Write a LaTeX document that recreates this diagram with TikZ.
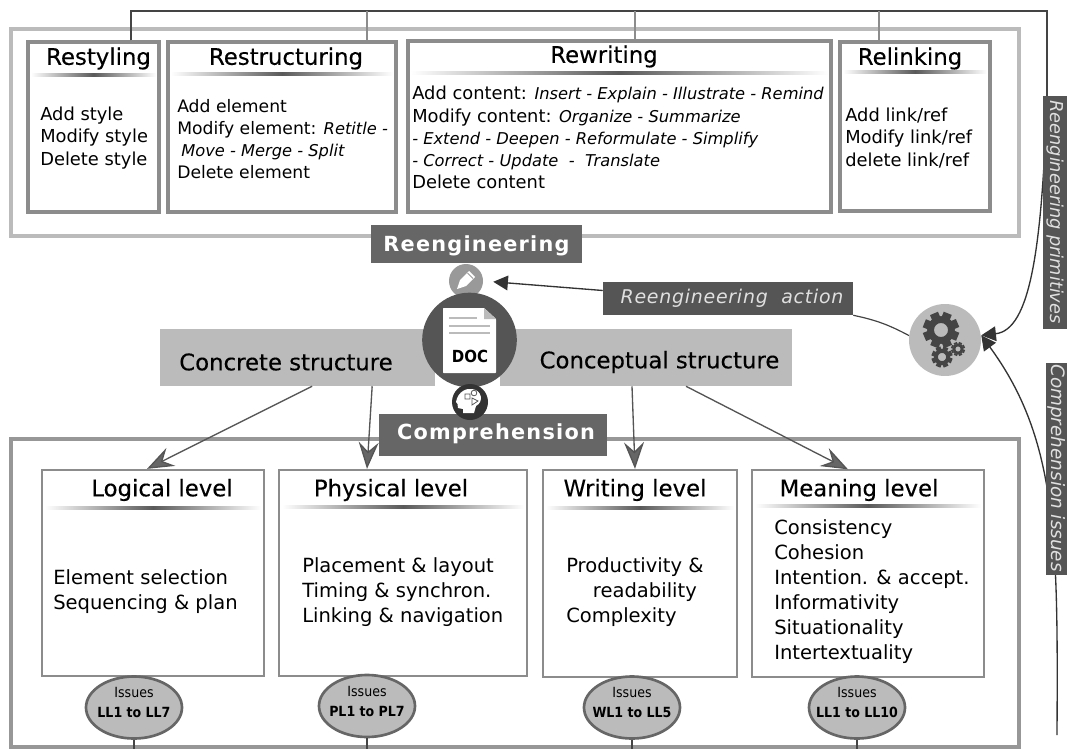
\documentclass[tikz,border=0pt]{standalone}
\usepackage{fontspec}
\setmainfont{DejaVu Sans}
\newfontfamily\condfont{DejaVu Sans Condensed}
\usetikzlibrary{arrows.meta,fit,shapes.geometric}
\definecolor{framegray}{HTML}{BBBBBB}
\definecolor{boxgray}{HTML}{8C8C8C}
\definecolor{bandgray}{HTML}{666666}
\definecolor{darkgray}{HTML}{555555}
\newcommand{\gearicon}[3]{%
  \foreach \a in {0,45,...,315}
    \draw [line width=#3*0.36pt,color=darkgray!80!black] (#1,#2)+(\a+22:#3*0.7) -- +(\a+22:#3);
  \draw [line width=#3*0.28pt,color=darkgray!80!black] (#1,#2) circle (#3*0.58);
}
\newcommand{\slanted}[1]{{\itshape\fontsize{12.2pt}{12pt}\selectfont #1}}
\tikzset{
  frame/.style={draw=framegray,line width=2.6pt,inner sep=0pt},
  topbox/.style={draw=boxgray,line width=2.5pt,fill=white,inner sep=0pt},
  levelbox/.style={draw=boxgray,line width=1.7pt,fill=white,inner sep=0pt},
  fillbox/.style={fill=#1,inner sep=0pt},
  title/.style={font=\fontsize{17.1pt}{20pt}\selectfont\addfontfeature{FakeBold=0.25},text=black,inner sep=0pt},
  topbody/.style={font=\fontsize{13.4pt}{16.6pt}\selectfont,align=left,anchor=west,inner sep=0pt},
  levelbody/.style={font=\fontsize{14.65pt}{18.75pt}\selectfont,align=left,anchor=west,inner sep=0pt},
  banner/.style={font=\bfseries\fontsize{15.6pt}{18pt}\selectfont\addfontfeature{LetterSpace=6},text=white,inner sep=0pt},
  sidetext/.style={font=\itshape\fontsize{13.3pt}{15pt}\selectfont,text=black!12,inner sep=0pt},
  issues/.style={ellipse,draw=bandgray,line width=2pt,fill=framegray,minimum width=72pt,minimum height=46.5pt,inner sep=0pt},
  issuestext/.style={align=center,inner sep=0pt,yshift=3.5pt,font=\condfont\fontsize{10.5pt}{15pt}\selectfont},
  link/.style={color=darkgray!80!black,line width=.9pt},
  levelarrow/.style={draw=darkgray,line width=1pt,-{Stealth[length=20pt,width=15pt,inset=7pt,fill=bandgray]}},
  darkarrow/.style={color=black!80,line width=1pt,-{Stealth[length=11pt,width=11pt,inset=0pt]}}
}
\begin{document}
\begin{tikzpicture}[x=0.75pt,y=-0.75pt]
\useasboundingbox (0,0) rectangle (1067,749);

% outer frames
\node (reengframe) [frame,fit={(11,29) (1019,236)}] {};
\node (compframe) [frame,draw=boxgray!90!white,fit={(11,439) (1019,747)}] {};

% corner points of the lines
\coordinate (topleft) at (131,11);
\coordinate (topright) at (1047,11);
\coordinate (stubb) at (367,11);
\coordinate (stubc) at (635,11);
\coordinate (stubd) at (879,11);
\coordinate (primtop) at (1047,96);
\coordinate (pagebottom) at (0,749);
\coordinate (issuesend) at (1057,735);

% top boxes
\node (restyling) [topbox,fit={(28,42) (159,212)}] {};
\node (restructuring) [topbox,fit={(168,42) (396,212)}] {};
\node (rewriting) [topbox,fit={(408,41) (831,212)}] {};
\node (relinking) [topbox,fit={(840,42) (990,211)}] {};

\draw [link] (restyling.north -| topleft) -- (topleft) -- (topright) -- (primtop);
\draw [link,color=boxgray] (restructuring.north -| stubb) -- (stubb);
\draw [link,color=boxgray] (rewriting.north -| stubc) -- (stubc);
\draw [link,color=boxgray] (relinking.north -| stubd) -- (stubd);

% level boxes
\node (logical) [levelbox,fit={(42,470) (264,676)}] {};
\node (physical) [levelbox,fit={(279,470) (527,676)}] {};
\node (writing) [levelbox,fit={(543,470) (737,677)}] {};
\node (meaning) [levelbox,line width=1pt,fit={(752,470) (984,677)}] {};

% rules under the titles
\foreach \l/\r/\y in {31/156/75,171/393/74,411/828/73,843/987/72,45/261/508,282/524/507,546/734/508,755/981/506}
  \shade [left color=white,right color=white,middle color=black!65] (\l,\y-1.5) rectangle (\r,\y+1.5);

\node (t1) [title] at (98.5,58.5) {Restyling};
\node (t2) [title] at (286,58.5) {Restructuring};
\node (t3) [title] at (604,56.5) {Rewriting};
\node (t4) [title] at (910,58.5) {Relinking};
\node (t5) [title] at (162,490) {Logical level};
\node (t6) [title] at (391,490) {Physical level};
\node (t7) [title] at (635,490) {Writing level};
\node (t8) [title] at (859,490) {Meaning level};

\node (b1) [topbody] at (40,138) {Add style\\Modify style\\Delete style};
\node (b2) [topbody,font=\fontsize{12.9pt}{16.6pt}\selectfont] at (177,139) {Add element\\Modify element: \slanted{Retitle -}\\
  \hspace{3pt}\slanted{Move - Merge - Split}\\Delete element};
\node (b3) [topbody] at (412,137.5) {Add content: \slanted{Insert - Explain - Illustrate - Remind}\\
  Modify content: \slanted{Organize - Summarize}\\
  \slanted{- Extend - Deepen - Reformulate - Simplify}\\
  \slanted{- Correct - Update \ - \ Translate}\\Delete content};
\node (b4) [topbody] at (845,138) {Add link/ref\\Modify link/ref\\delete link/ref};
\node (b5) [levelbody] at (53,592) {Element selection\\Sequencing \& plan};
\node (b6) [levelbody] at (302,592) {Placement \& layout\\Timing \& synchron.\\Linking \& navigation};
\node (b7) [levelbody] at (566,592) {Productivity \&\\\hspace{20pt}readability\\Complexity};
\node (b8) [levelbody] at (774,592) {Consistency\\Cohesion\\Intention. \& accept.\\Informativity\\Situationality\\Intertextuality};

% issues
\node (issuesa) [issues] at (134,707.5) {};
\node (issuesb) [issues] at (367,706) {};
\node (issuesc) [issues] at (632,707.5) {};
\node (issuesd) [issues] at (857,707.5) {};
\node (issuesatext) [issuestext] at (issuesa) {Issues\\\textbf{LL1 to LL7}};
\node (issuesbtext) [issuestext] at (issuesb) {Issues\\\textbf{PL1 to PL7}};
\node (issuesctext) [issuestext] at (issuesc) {Issues\\\textbf{WL1 to LL5}};
\node (issuesdtext) [issuestext] at (issuesd) {Issues\\\textbf{LL1 to LL10}};
\foreach \n in {issuesa,issuesb,issuesc,issuesd}
  \draw [link] (\n.south) -- (\n.south |- pagebottom);

% middle
\node (reengband) [fillbox=bandgray,fit={(371,225) (582,263)}] {};
\node (reengtext) [banner] at (476.5,246) {Reengineering};
\node (concrete) [fillbox=framegray,fit={(160,329) (435,386)}] {};
\node (conceptual) [fillbox=framegray,fit={(500,329) (792,386)}] {};
\node (concretetext) [title] at (286,362) {Concrete structure};
\node (conceptualtext) [title] at (659.5,362) {Conceptual structure};
\node (compband) [fillbox=bandgray,fit={(379,414) (607,456)}] {};
\node (comptext) [banner] at (496,434) {Comprehension};

\draw [levelarrow] ([xshift=11pt]concrete.south) -- ([xshift=-4.5pt]logical.north);
\draw [levelarrow] ([xshift=56pt]concrete.south) -- ([xshift=-27pt]physical.north);
\draw [levelarrow] ([xshift=-10.5pt]conceptual.south) -- ([xshift=-3.75pt]writing.north);
\draw [levelarrow] ([xshift=30pt]conceptual.south) -- ([xshift=-15pt]meaning.north);

% document and icons
\node (pencil) [circle,fill=black!40,minimum size=25.5pt,inner sep=0pt] at (466,281) {};
\fill [white] (457,289) -- (460,280) -- (469,271) -- (475,277) -- (466,286) -- cycle;
\draw [black!40,line width=.6pt] (467.5,273) -- (473,278.5);
\node (doc) [circle,fill=darkgray,minimum size=71pt,inner sep=0pt] at (469.5,340) {};
\fill [white,rounded corners=.5pt] (443,308) -- (484,308) -- (496,319) -- (496,373) -- (443,373) -- cycle;
\fill [framegray] (484,308) -- (496,319) -- (484,319) -- cycle;
\draw [framegray,line width=1.6pt] (449,318) -- (477,318) (449,326) -- (490,326) (449,333) -- (490,333);
\node (doctext) [font=\condfont\bfseries\fontsize{12.5pt}{14pt}\selectfont,inner sep=0pt] at (470,356) {DOC};
\node (head) [circle,fill=black!80,minimum size=27pt,inner sep=0pt] at (470,402) {};
\fill [white] (463,413) -- (463,409) -- (458,408) -- (457.5,404) -- (456,402) .. controls (458,391) and (467,388) .. (472,389)
  .. controls (482,390) and (484,402) .. (476,406) -- (474,413) -- cycle;
\draw [darkgray,line width=.6pt] (465,394) rectangle (470,399) (474,393) circle (2.8) (472,398) -- (478,401) -- (472,405) -- cycle;

% side parts
\node (action) [fillbox=darkgray,fit={(603,282) (853,315)}] {};
\node (actiontext) [sidetext,font=\itshape\fontsize{14.2pt}{16pt}\selectfont\addfontfeature{LetterSpace=4}] at (732,298) {Reengineering \ action};
\node (gears) [circle,fill=framegray,minimum size=54pt,inner sep=0pt] at (945,340) {};
\gearicon{941}{330}{18}
\gearicon{942}{357}{10.5}
\gearicon{958}{349}{7}

\draw [darkarrow,shorten >=7.5pt] ([yshift=6pt]action.west) -- (pencil.east);
\draw [link] (action.south east) to [bend left=8] (gears.173);
\draw [darkarrow] (primtop) .. controls (1042,250) and (1030,330) .. ([yshift=3.5pt]gears.east);
\draw [darkarrow] (issuesend) .. controls (1058,540) and (1058,440) .. ([yshift=3.5pt]gears.east);

\node (primitives) [fillbox=darkgray,fit={(1043,96) (1067,329)}] {};
\node (primtext) [sidetext,rotate=-90] at (1055,212) {Reengineering primitives};
\node (issuebox) [fillbox=darkgray,fit={(1046,363) (1067,575)}] {};
\node (issuetext) [sidetext,font=\itshape\fontsize{13.8pt}{15pt}\selectfont,rotate=-90] at (1057,468) {Comprehension issues};
\end{tikzpicture}
\end{document}
